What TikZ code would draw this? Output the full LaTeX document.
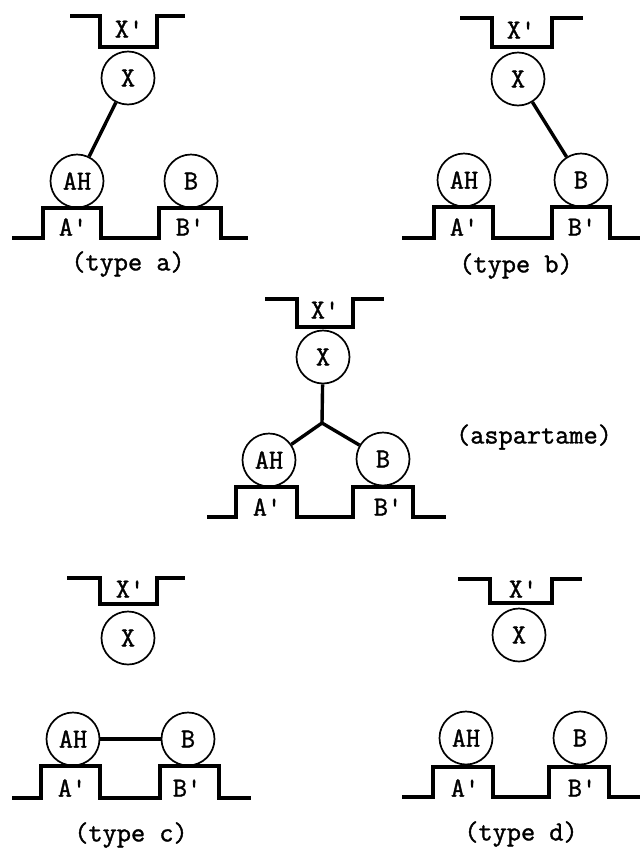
\documentclass[tikz,border=0pt]{standalone}
\usepackage{fontspec}
\newfontfamily\twfont{Latin Modern Mono}[FakeBold=1.3]
\usetikzlibrary{calc}
\newcommand{\pr}{\textquotesingle}
\tikzset{
  prof/.style={line width=3.2pt, line join=miter, line cap=butt},
  ball/.style={circle, draw, line width=1.7pt, minimum size=53pt, inner sep=0pt},
  link/.style={line width=3.4pt},
  lbl/.style={inner sep=0pt},
  captext/.style={inner sep=0pt},
  every node/.style={font=\fontsize{27.5}{31}\selectfont\twfont}
}
\begin{document}
\begin{tikzpicture}[x=1pt,y=-1pt]
\useasboundingbox (0,0) rectangle (640,852);

% ---------- type a ----------
\draw[prof] (70,16) -- (100,16) -- (100,47) -- (157,47) -- (157,16) -- (185,16);
\node[lbl] (aXp) at (129,29) {X\pr};
\node[ball] (aX) at (128,78) {X};
\node[ball] (aAH) at (77,181) {AH};
\node[ball] (aB) at (191,181) {B};
\draw[prof] (12,238) -- (43,238) -- (43,208) -- (101,208) -- (101,238) -- (159,238) -- (159,208) -- (221,208) -- (221,238) -- (248,238);
\node[lbl] (aAp) at (73,227) {A\pr};
\node[lbl] (aBp) at (190,227) {B\pr};
\draw[link] (aX) -- (aAH);
\node[captext] (acap) at (128,264) {(type a)};

% ---------- type b ----------
\draw[prof] (460,18) -- (492,18) -- (492,47) -- (552,47) -- (552,18) -- (583,18);
\node[lbl] (bXp) at (521,30) {X\pr};
\node[ball] (bX) at (518,79) {X};
\node[ball] (bAH) at (464,180) {AH};
\node[ball] (bB) at (581,180) {B};
\draw[prof] (402,238) -- (434,238) -- (434,207) -- (493,207) -- (493,238) -- (552,238) -- (552,207) -- (610,207) -- (610,238) -- (640,238);
\node[lbl] (bAp) at (464,227) {A\pr};
\node[lbl] (bBp) at (582,227) {B\pr};
\draw[link] (bX) -- (bB);
\node[captext] (bcap) at (516,266) {(type b)};

% ---------- aspartame ----------
\draw[prof] (265,299) -- (297,299) -- (297,327) -- (353,327) -- (353,299) -- (384,299);
\node[lbl] (sXp) at (325,310) {X\pr};
\node[ball] (sX) at (323,357) {X};
\node[ball] (sAH) at (269,460) {AH};
\node[ball] (sB) at (383,459) {B};
\coordinate (sJ) at (322,423);
\draw[prof] (207,517) -- (236,517) -- (236,487) -- (297,487) -- (297,517) -- (353,517) -- (353,487) -- (413,487) -- (413,517) -- (446,517);
\node[lbl] (sAp) at (267,507) {A\pr};
\node[lbl] (sBp) at (388,507) {B\pr};
\draw[link] (sX) -- (sJ);
\draw[link] (sJ) -- (sAH);
\draw[link] (sJ) -- (sB);
\node[captext] (scap) at (534,437) {(aspartame)};

% ---------- type c ----------
\draw[prof] (67,578) -- (100,578) -- (100,604) -- (157,604) -- (157,578) -- (185,578);
\node[lbl] (cXp) at (130,589) {X\pr};
\node[ball] (cX) at (128,638) {X};
\node[ball] (cAH) at (73,739) {AH};
\node[ball] (cB) at (188,739) {B};
\draw[prof] (12,798) -- (41,798) -- (41,766) -- (100,766) -- (100,798) -- (160,798) -- (160,766) -- (219,766) -- (219,798) -- (251,798);
\node[lbl] (cAp) at (72,788) {A\pr};
\node[lbl] (cBp) at (187,788) {B\pr};
\draw[link] (cAH) -- (cB);
\node[captext] (ccap) at (131,835) {(type c)};

% ---------- type d ----------
\draw[prof] (458,579) -- (490,579) -- (490,603) -- (552,603) -- (552,579) -- (582,579);
\node[lbl] (dXp) at (523,589) {X\pr};
\node[ball] (dX) at (519,635) {X};
\node[ball] (dAH) at (466,738) {AH};
\node[ball] (dB) at (580,738) {B};
\draw[prof] (402,797) -- (433,797) -- (433,767) -- (493,767) -- (493,797) -- (549,797) -- (549,767) -- (609,767) -- (609,797) -- (640,797);
\node[lbl] (dAp) at (465,788) {A\pr};
\node[lbl] (dBp) at (582,788) {B\pr};
\node[captext] (dcap) at (521,834) {(type d)};
\end{tikzpicture}
\end{document}
